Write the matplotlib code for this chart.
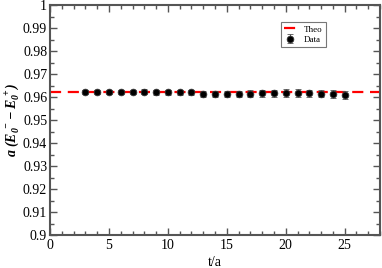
import numpy as np
import matplotlib
matplotlib.use('Agg')
import matplotlib.pyplot as plt
from matplotlib.ticker import MultipleLocator

plt.rcParams['font.family'] = ['Liberation Serif', 'DejaVu Serif']
plt.rcParams['mathtext.fontset'] = 'custom'
plt.rcParams['mathtext.rm'] = 'Liberation Serif'
plt.rcParams['mathtext.it'] = 'Liberation Serif:italic'
plt.rcParams['mathtext.bf'] = 'Liberation Serif:bold'
plt.rcParams['mathtext.bfit'] = 'Liberation Serif:bold:italic'

# data
t = [3, 4, 5, 6, 7, 8, 9, 10, 11, 12, 13, 14, 15, 16, 17, 18, 19, 20, 21, 22, 23, 24, 25]
val = [0.9622, 0.9622, 0.9622, 0.9622, 0.9622, 0.9622, 0.9621, 0.9621, 0.9621, 0.9620,
       0.9614, 0.9613, 0.9613, 0.9613, 0.9614, 0.9616, 0.9616, 0.9617, 0.9617, 0.9616,
       0.9614, 0.9612, 0.9609]
err = [0.0010, 0.0010, 0.0010, 0.0010, 0.0010, 0.0011, 0.0011, 0.0011, 0.0011, 0.0012,
       0.0013, 0.0014, 0.0014, 0.0015, 0.0015, 0.0015, 0.0016, 0.0016, 0.0016, 0.0016,
       0.0016, 0.0017, 0.0017]
theo = 0.9623

fig = plt.figure(figsize=(3.82, 2.68), dpi=100)
ax = fig.add_axes([0.1309, 0.1231, 0.8639, 0.8582])

ax.axhline(theo, color='#ff0000', lw=1.6, ls=(0, (5, 3)), label='Theo', zorder=1)
ax.errorbar(t, val, yerr=err, fmt='o', color='black', ecolor='#555555', elinewidth=0.8,
            capsize=2, capthick=0.8, ms=4.8, mec='#333333', mew=0.6, label='Data', zorder=3)

ax.set_xlim(0, 28)
ax.set_ylim(0.9, 1.0)
ax.xaxis.set_major_locator(MultipleLocator(5))
ax.xaxis.set_minor_locator(MultipleLocator(1))
ax.yaxis.set_major_locator(MultipleLocator(0.01))
ax.yaxis.set_minor_locator(MultipleLocator(0.005))
ax.set_yticks(np.arange(0.9, 1.0001, 0.01))
ax.set_yticklabels(['0.9', '0.91', '0.92', '0.93', '0.94', '0.95', '0.96', '0.97', '0.98', '0.99', '1'])

ax.tick_params(which='both', direction='in', top=True, right=True, labelsize=10, pad=2,
               color='#555555')
ax.tick_params(axis='x', pad=3)
ax.tick_params(which='major', length=5, width=1)
ax.tick_params(which='minor', length=3, width=1)
for s in ax.spines.values():
    s.set_color('#555555')
    s.set_linewidth(1.5)

ax.set_xlabel('t/a', fontsize=10, labelpad=3)
ax.set_ylabel(r'$\mathbfit{a\ (E_0^{\ -} - E_0^{\ +})}$', fontsize=10, labelpad=1)

leg = ax.legend(loc='upper left', bbox_to_anchor=(0.70, 0.926), borderaxespad=0,
                fontsize=6.5, frameon=True, fancybox=False, edgecolor='#555555',
                handlelength=1.4, borderpad=0.35, labelspacing=0.25, handletextpad=0.8)
leg.get_frame().set_linewidth(0.8)

fig.savefig('out.png', dpi=100)
